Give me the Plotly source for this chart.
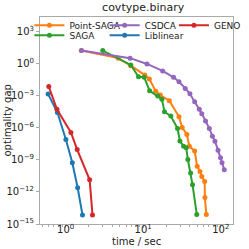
import plotly.graph_objects as go

# ---- data ----
point_saga_t = [1.60, 4.77, 6.91, 10.5, 12.0, 14.5, 16.6, 21.7, 28.9, 31.8, 36.5, 39.3, 46.0, 49.6, 53.9, 56.9, 61.9, 62.4, 65.0]
point_saga_gap = [1.8e1, 3.5e0, 6.9e-1, 9.1e-2, 3.8e-2, 2.8e-3, 1.2e-3, 3.6e-4, 1.1e-5, 1.1e-6, 2.5e-7, 1.9e-8, 6.9e-9, 2.6e-10, 8.5e-11, 2.9e-11, 9.8e-12, 3.0e-13, 7.9e-15]

saga_t = [3.01, 6.91, 8.70, 10.3, 12.1, 15.4, 17.4, 18.8, 22.7, 27.7, 29.7, 33.2, 35.8, 37.6, 40.8, 43.2, 49.0]
saga_gap = [1.8e1, 8.1e-1, 6.3e-2, 5.6e-2, 3.0e-3, 1.0e-3, 5.0e-4, 3.3e-5, 1.3e-5, 9.1e-7, 6.0e-8, 1.9e-8, 1.4e-8, 1.1e-9, 6.0e-11, 4.8e-12, 7.9e-15]

csdca_t = [1.60, 6.78, 11.2, 17.8, 24.6, 28.9, 34.8, 40.0, 46.0, 52.8, 56.9, 63.6, 71.1, 77.9, 84.0, 92.0, 99.2, 103.7, 110.8]
csdca_gap = [1.8e1, 3.5e0, 1.0e0, 2.2e-1, 5.6e-2, 2.1e-2, 5.1e-3, 1.6e-3, 2.8e-4, 5.6e-5, 2.2e-5, 4.5e-6, 9.1e-7, 1.7e-7, 5.8e-8, 8.3e-9, 1.6e-9, 5.4e-10, 1.2e-10]

liblinear_t = [0.595, 0.785, 1.008, 1.22, 1.43, 1.65]
liblinear_gap = [1.5e-3, 2.8e-5, 8.3e-8, 5.4e-10, 2.5e-12, 7.1e-15]

geno_t = [0.607, 0.773, 1.17, 1.41, 2.04, 2.22]
geno_gap = [7.6e-3, 5.6e-5, 3.8e-7, 9.5e-9, 1.4e-11, 7.1e-15]

x_tickvals = [1, 10, 100]
x_ticktext = ["10<sup>0</sup>", "10<sup>1</sup>", "10<sup>2</sup>"]
y_tickvals = [1e-15, 1e-12, 1e-9, 1e-6, 1e-3, 1e0, 1e3]
y_ticktext = ["10<sup>\u221215</sup>", "10<sup>\u221212</sup>", "10<sup>\u22129</sup>",
              "10<sup>\u22126</sup>", "10<sup>\u22123</sup>", "10<sup>0</sup>", "10<sup>3</sup>"]

# name, x, y, colour, legend id
series = [
    ("Point-SAGA", point_saga_t, point_saga_gap, "#ff7f0e", "legend"),
    ("SAGA", saga_t, saga_gap, "#2ca02c", "legend2"),
    ("CSDCA", csdca_t, csdca_gap, "#9467bd", "legend3"),
    ("Liblinear", liblinear_t, liblinear_gap, "#1f77b4", "legend4"),
    ("GENO", geno_t, geno_gap, "#d62728", "legend5"),
]

fig = go.Figure()
for name, t, g, c, lg in series:
    fig.add_trace(go.Scatter(
        x=t, y=g, name=name, mode="lines+markers",
        line=dict(color=c, width=2),
        marker=dict(color=c, size=5),
        legend=lg,
    ))

minor_x = [m * d for d in (0.1, 1, 10, 100) for m in range(2, 10)]

def leg(x, y):
    return dict(x=x, y=y, xanchor="left", yanchor="middle", itemwidth=30,
                font=dict(size=9, color="#222"), bgcolor="rgba(255,255,255,0)",
                borderwidth=0)

fig.update_layout(
    width=249, height=249,
    margin=dict(l=40, r=3, t=17, b=25),
    paper_bgcolor="white", plot_bgcolor="white",
    font=dict(family="DejaVu Sans", size=10, color="#222"),
    title=dict(text="covtype.binary", x=0.575, xanchor="center", y=0.985, yanchor="top",
               font=dict(size=11, color="#222")),
    showlegend=True,
    legend=leg(-0.055, 0.960),
    legend2=leg(-0.055, 0.912),
    legend3=leg(0.335, 0.960),
    legend4=leg(0.335, 0.912),
    legend5=leg(0.694, 0.960),
    annotations=[
        dict(text="time / sec", xref="paper", yref="paper", x=0.5, y=0, yshift=-17,
             xanchor="center", yanchor="middle", showarrow=False, font=dict(size=10)),
        dict(text="optimality gap", xref="paper", yref="paper", x=0, xshift=-33, y=0.5,
             textangle=-90, xanchor="center", yanchor="middle", showarrow=False, font=dict(size=10)),
    ],
)
fig.update_xaxes(
    type="log", range=[-0.33, 2.157],
    tickvals=x_tickvals, ticktext=x_ticktext,
    showgrid=False, zeroline=False,
    showline=True, linecolor="#aaaaaa", linewidth=1, mirror=True,
    ticks="outside", ticklen=3, tickcolor="#aaaaaa",
    ticklabelstandoff=-7,
    minor=dict(tickvals=minor_x, ticks="outside", ticklen=2, tickcolor="#aaaaaa"),
    tickfont=dict(size=10),
)
fig.update_yaxes(
    type="log", range=[-15, 4.4],
    tickvals=y_tickvals, ticktext=y_ticktext,
    showgrid=False, zeroline=False,
    showline=True, linecolor="#aaaaaa", linewidth=1, mirror=True,
    ticks="outside", ticklen=3, tickcolor="#aaaaaa",
    tickfont=dict(size=10),
)

fig.write_html("out.html", config={"displayModeBar": False},
               post_script="document.body.style.margin='0';")
